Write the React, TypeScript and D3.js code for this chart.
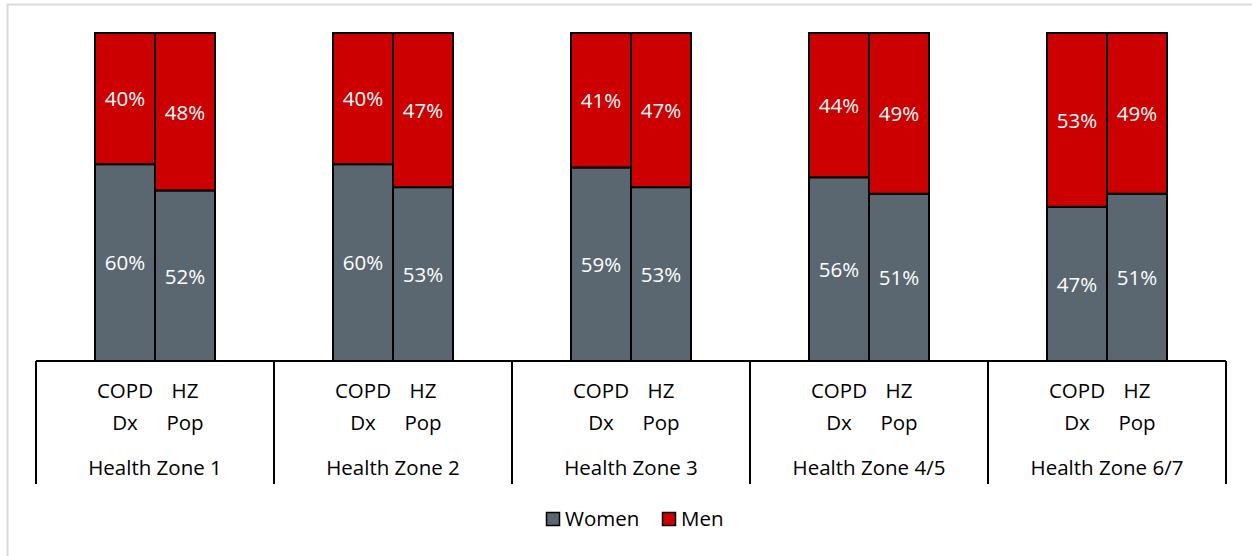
import React, { useEffect, useRef } from 'react';
import * as d3 from 'd3';

// zones, sub-bars and values (percent)
const zones = ['Health Zone 1', 'Health Zone 2', 'Health Zone 3', 'Health Zone 4/5', 'Health Zone 6/7'];
const subBars = ['COPD Dx', 'HZ Pop'];
const womenCopd = [60, 60, 59, 56, 47];
const womenHz = [52, 53, 53, 51, 51];
const menCopd = [40, 40, 41, 44, 53];
const menHz = [48, 47, 47, 49, 49];
const seriesNames = ['Women', 'Men'];
const seriesColors = ['#5b6770', '#cc0000'];

type Seg = { zone: string; sub: string; series: string; y0: number; y1: number; color: string };

const App: React.FC = () => {
  const svgRef = useRef<SVGSVGElement>(null);

  useEffect(() => {
    if (!svgRef.current) return;
    d3.select(svgRef.current).selectAll('*').remove();

    const W = 1252;
    const H = 556;
    const font = '"Open Sans", sans-serif';
    const fs = '20.5px';
    const svg = d3.select(svgRef.current).attr('width', W).attr('height', H);

    // chart border (cut off on right/bottom in the original)
    svg
      .append('rect')
      .attr('x', 7.5)
      .attr('y', 4.5)
      .attr('width', 1260)
      .attr('height', 570)
      .attr('fill', '#fff')
      .attr('stroke', '#d9d9d9')
      .attr('stroke-width', 2);

    const left = 36;
    const right = 1226;
    const top = 33;
    const bottom = 361;

    const x = d3.scaleBand().domain(zones).range([left, right]).padding(0);
    const sub = d3.scaleBand().domain(subBars).range([59, x.bandwidth() - 59]).padding(0);
    const y = d3.scaleLinear().domain([0, 100]).range([bottom, top]);

    const segs: Seg[] = [];
    zones.forEach((z, i) => {
      const pairs = [
        { sub: subBars[0], w: womenCopd[i], m: menCopd[i] },
        { sub: subBars[1], w: womenHz[i], m: menHz[i] },
      ];
      pairs.forEach((p) => {
        segs.push({ zone: z, sub: p.sub, series: seriesNames[0], y0: 0, y1: p.w, color: seriesColors[0] });
        segs.push({ zone: z, sub: p.sub, series: seriesNames[1], y0: p.w, y1: p.w + p.m, color: seriesColors[1] });
      });
    });

    const g = svg.append('g');
    g.selectAll('rect.seg')
      .data(segs)
      .enter()
      .append('rect')
      .attr('class', 'seg')
      .attr('x', (d) => (x(d.zone) || 0) + (sub(d.sub) || 0))
      .attr('y', (d) => y(d.y1))
      .attr('width', sub.bandwidth())
      .attr('height', (d) => y(d.y0) - y(d.y1))
      .attr('fill', (d) => d.color)
      .attr('stroke', '#000')
      .attr('stroke-width', 2);

    g.selectAll('text.lbl')
      .data(segs)
      .enter()
      .append('text')
      .attr('class', 'lbl')
      .attr('x', (d) => (x(d.zone) || 0) + (sub(d.sub) || 0) + sub.bandwidth() / 2)
      .attr('y', (d) => (y(d.y0) + y(d.y1)) / 2)
      .attr('dy', '0.38em')
      .attr('text-anchor', 'middle')
      .attr('fill', '#fff')
      .style('font-family', font)
      .style('font-size', fs)
      .text((d) => `${d.y1 - d.y0}%`);

    // category axis with group separators
    svg
      .append('line')
      .attr('x1', left)
      .attr('x2', right)
      .attr('y1', bottom)
      .attr('y2', bottom)
      .attr('stroke', '#000')
      .attr('stroke-width', 2);

    const seps = [...zones.map((z) => x(z) || 0), right];
    svg
      .selectAll('line.sep')
      .data(seps)
      .enter()
      .append('line')
      .attr('class', 'sep')
      .attr('x1', (d) => d)
      .attr('x2', (d) => d)
      .attr('y1', bottom)
      .attr('y2', 484)
      .attr('stroke', '#000')
      .attr('stroke-width', 2);

    const subLabels = zones.flatMap((z) => subBars.map((s) => ({ z, s })));
    const subText = svg
      .selectAll('text.sub')
      .data(subLabels)
      .enter()
      .append('text')
      .attr('class', 'sub')
      .attr('text-anchor', 'middle')
      .attr('fill', '#000')
      .style('font-family', font)
      .style('font-size', fs);
    subText
      .append('tspan')
      .attr('x', (d) => (x(d.z) || 0) + (sub(d.s) || 0) + sub.bandwidth() / 2)
      .attr('y', 398)
      .text((d) => d.s.split(' ')[0]);
    subText
      .append('tspan')
      .attr('x', (d) => (x(d.z) || 0) + (sub(d.s) || 0) + sub.bandwidth() / 2)
      .attr('y', 430)
      .text((d) => d.s.split(' ')[1]);

    svg
      .selectAll('text.zone')
      .data(zones)
      .enter()
      .append('text')
      .attr('class', 'zone')
      .attr('x', (d) => (x(d) || 0) + x.bandwidth() / 2)
      .attr('y', 475)
      .attr('text-anchor', 'middle')
      .attr('fill', '#000')
      .style('font-family', font)
      .style('font-size', fs)
      .text((d) => d);

    // legend
    const legend = svg.append('g').attr('transform', 'translate(545,519)');
    const items = [
      { name: seriesNames[0], color: seriesColors[0], x: 0 },
      { name: seriesNames[1], color: seriesColors[1], x: 116 },
    ];
    const li = legend
      .selectAll('g')
      .data(items)
      .enter()
      .append('g')
      .attr('transform', (d) => `translate(${d.x},0)`);
    li.append('rect')
      .attr('x', 1.5)
      .attr('y', -6.5)
      .attr('width', 13)
      .attr('height', 13)
      .attr('fill', (d) => d.color)
      .attr('stroke', '#000')
      .attr('stroke-width', 1.5);
    li.append('text')
      .attr('x', 20)
      .attr('y', 0)
      .attr('dy', '0.35em')
      .attr('fill', '#000')
      .style('font-family', font)
      .style('font-size', fs)
      .text((d) => d.name);
  }, []);

  return <svg ref={svgRef} style={{ position: 'absolute', left: 0, top: 0 }}></svg>;
};

export default App;
